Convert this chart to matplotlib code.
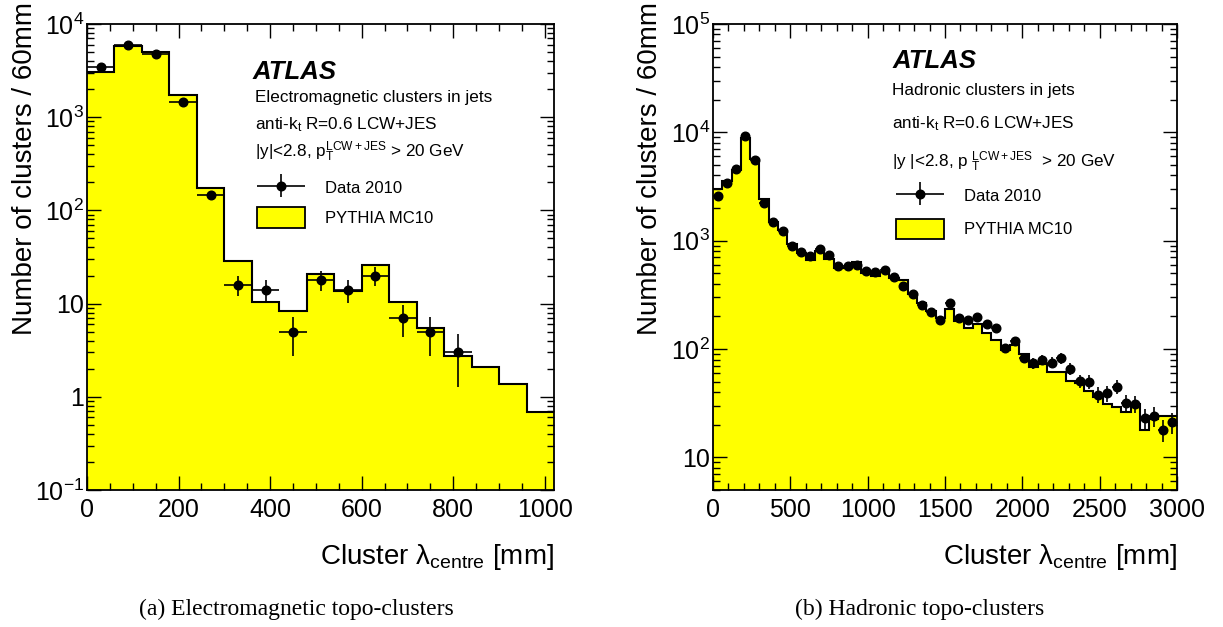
import numpy as np
import matplotlib
matplotlib.use("Agg")
import matplotlib.pyplot as plt
from matplotlib.patches import Patch
from matplotlib.container import ErrorbarContainer
from matplotlib.legend_handler import HandlerErrorbar
from matplotlib.ticker import FuncFormatter, MultipleLocator, LogLocator

plt.rcParams["font.family"] = ["Liberation Sans", "DejaVu Sans"]
plt.rcParams["mathtext.fontset"] = "custom"
plt.rcParams["mathtext.rm"] = "Liberation Sans"
plt.rcParams["mathtext.it"] = "Liberation Sans:italic"
plt.rcParams["mathtext.bf"] = "Liberation Sans:bold"
plt.rcParams["mathtext.default"] = "regular"

BIN_W = 60  # mm

# (a) electromagnetic clusters, 17 bins of 60 mm
em_mc = [3080, 5870, 4970, 1750, 173, 28.7, 10.5, 8.3, 21, 13.8, 26.2,
         10.5, 5.5, 2.75, 2.11, 1.38, 0.69]
em_data = [3460, 5950, 4730, 1470, 145, 16, 14, 5, 18, 14, 20, 7, 5, 3]

# (b) hadronic clusters, 50 bins of 60 mm
had_mc = [2985, 3590, 4500, 8810, 5650, 2440, 1500, 1260, 940, 770,
          668, 800, 680, 560, 560, 641, 505, 469, 515, 455,
          436, 320, 268, 224, 195, 233, 182, 158, 172, 142,
          121, 97, 110, 90, 68, 72, 61, 62, 51, 49,
          41, 36, 31, 29, 26, 31, 18, 22.5, 24, 24]
had_data = [2590, 3400, 4570, 9250, 5560, 2250, 1475, 1220, 900, 780,
            728, 838, 733, 589, 589, 593, 530, 519, 541, 463,
            379, 322, 255, 218, 187, 266, 192, 184, 196, 171,
            155, 102, 118, 83, 74, 80, 75, 82, 66, 51,
            50, 38, 39, 45, 32, 31, 23, 24, 18, 21]

YELLOW = "#ffff00"


def log_label(v, pos):
    e = int(round(np.log10(v)))
    if e == 0:
        return "1"
    if e == 1:
        return "10"
    return "$10^{%d}$" % e


def draw(ax, mc, data, xmax, ylim, xmajor, xminor, texts, leg_anchor, leg_space):
    edges = np.arange(len(mc) + 1) * BIN_W
    ax.stairs(mc, edges, fill=True, color=YELLOW, baseline=1e-3)
    ax.stairs(mc, edges, color="black", lw=1.5, baseline=None)

    data = np.asarray(data, float)
    xc = (np.arange(len(data)) + 0.5) * BIN_W
    eb = ax.errorbar(xc, data, xerr=BIN_W / 2, yerr=np.sqrt(data), fmt="o",
                     color="black", ms=6.2, lw=1.2, capsize=0)

    ax.set_yscale("log")
    ax.set_xlim(0, xmax)
    ax.set_ylim(*ylim)
    ax.xaxis.set_major_locator(MultipleLocator(xmajor))
    ax.xaxis.set_minor_locator(MultipleLocator(xminor))
    ax.yaxis.set_major_locator(LogLocator(base=10))
    ax.yaxis.set_minor_locator(LogLocator(base=10, subs=np.arange(2, 10)))
    ax.yaxis.set_major_formatter(FuncFormatter(log_label))
    ax.yaxis.set_minor_formatter(FuncFormatter(lambda v, p: ""))
    ax.tick_params(which="both", direction="in", top=True, right=True,
                   labelsize=18, width=1.0)
    ax.tick_params(which="major", length=10)
    ax.tick_params(which="minor", length=5)
    ax.tick_params(axis="x", pad=6)
    ax.tick_params(axis="y", pad=2)
    for s in ax.spines.values():
        s.set_linewidth(1.3)

    ax.set_xlabel(r"Cluster $\lambda_{centre}$ [mm]", fontsize=20, loc="right")
    ax.xaxis.set_label_coords(1.0, -0.112)
    ax.set_ylabel("Number of clusters / 60mm", fontsize=20, loc="top")

    for (x, y, s, kw) in texts:
        ax.text(x, y, s, transform=ax.transAxes, va="baseline", ha="left", **kw)

    mc_patch = Patch(facecolor=YELLOW, edgecolor="black", lw=1.3)
    ax.legend([eb, mc_patch], ["Data 2010", "PYTHIA MC10"], loc="upper left",
              bbox_to_anchor=leg_anchor, frameon=False, fontsize=12,
              borderpad=0, borderaxespad=0, handlelength=2.9, handleheight=1.5,
              handletextpad=1.2, labelspacing=leg_space,
              handler_map={ErrorbarContainer: HandlerErrorbar(xerr_size=1.44, yerr_size=0.69)})


fig = plt.figure(figsize=(12.23, 6.27), dpi=100)
ax1 = fig.add_axes([87 / 1223, 1 - 490 / 627, 467 / 1223, 466 / 627])
ax2 = fig.add_axes([713 / 1223, 1 - 490 / 627, 464 / 1223, 466 / 627])

draw(ax1, em_mc, em_data, 1020, (0.1, 1e4), 200, 50,
     [(0.355, 0.882, "ATLAS", dict(fontsize=18.5, fontweight="bold", fontstyle="italic")),
      (0.360, 0.833, "Electromagnetic clusters in jets", dict(fontsize=12.3)),
      (0.360, 0.773, "anti-k$_t$ R=0.6 LCW+JES", dict(fontsize=12.3)),
      (0.360, 0.715, "|y|<2.8, p$_T^{LCW+JES}$ > 20 GeV", dict(fontsize=12.3))],
     (0.364, 0.670), 0.55)
ax1.yaxis.set_label_coords(-0.105, 1.048)

draw(ax2, had_mc, had_data, 3000, (5, 1e5), 500, 100,
     [(0.386, 0.906, "ATLAS", dict(fontsize=18.5, fontweight="bold", fontstyle="italic")),
      (0.386, 0.848, "Hadronic clusters in jets", dict(fontsize=12.3)),
      (0.386, 0.777, "anti-k$_t$ R=0.6 LCW+JES", dict(fontsize=12.3)),
      (0.386, 0.693, "|y |<2.8, p $_T^{LCW+JES}$  > 20 GeV", dict(fontsize=12.3))],
     (0.394, 0.653), 0.75)
ax2.yaxis.set_label_coords(-0.108, 1.048)

fig.text(296 / 1223, 1 - 609 / 627, "(a) Electromagnetic topo-clusters",
         ha="center", va="center", fontsize=17, family="Liberation Serif")
fig.text(920 / 1223, 1 - 609 / 627, "(b) Hadronic topo-clusters",
         ha="center", va="center", fontsize=17, family="Liberation Serif")

fig.savefig("out.png", dpi=100)
